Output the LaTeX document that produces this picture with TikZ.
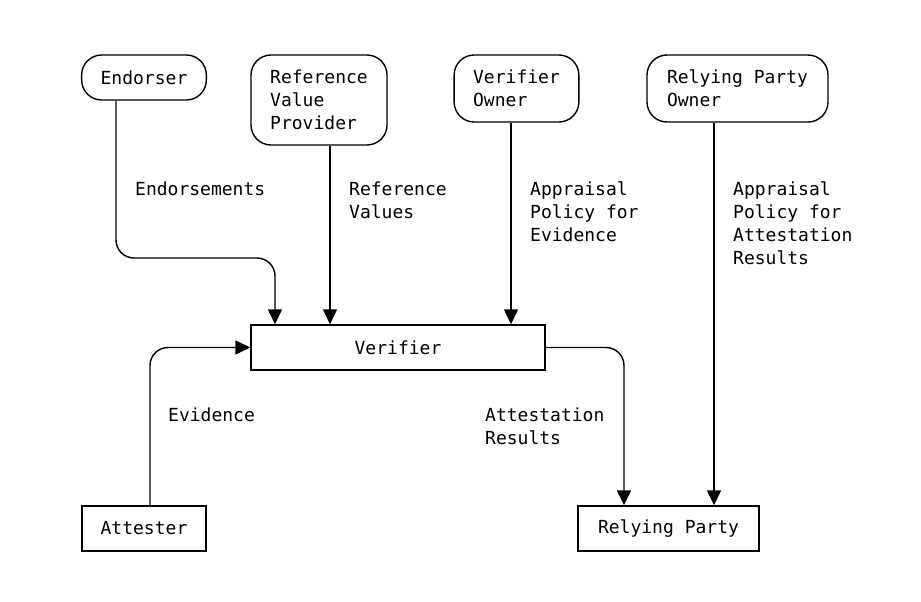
\documentclass[tikz,border=0pt]{standalone}
\usepackage{fontspec}
\newfontfamily\diagfont{DejaVu Sans Mono}
\usepackage{tikz}
\usetikzlibrary{positioning, arrows.meta, shapes}

\tikzset{
	roundbox/.style={draw, line width=1.4pt, rounded corners=20pt, align=left, inner xsep=19pt, inner ysep=0pt},
	plainbox/.style={draw, line width=1.4pt, align=center, inner sep=0pt, minimum height=45pt},
	link/.style={line width=1.4pt, rounded corners=18pt, -{Triangle[length=15pt, width=14pt]}},
	tag/.style={anchor=west, align=left, inner sep=0pt},
}

\begin{document}
\begin{tikzpicture}[x=1pt, y=-1pt, font=\diagfont\fontsize{18}{23}\selectfont]
		\useasboundingbox (0,0) rectangle (921,602);

		% Roles at the top
		\node[roundbox, minimum width=124pt, minimum height=45pt] (endorser) at (144,77.5) {Endorser};
		\node[roundbox, minimum width=136pt, minimum height=90pt] (refval) at (319,100) {Reference\\Value\\Provider};
		\node[roundbox, minimum width=123pt, minimum height=67pt] (vowner) at (516.5,88.5) {Verifier\\Owner};
		\node[roundbox, minimum width=181pt, minimum height=67pt] (rpowner) at (737.5,88.5) {Relying Party\\Owner};

		% Main boxes
		\node[plainbox, minimum width=294pt] (verifier) at (398,347.5) {Verifier};
		\node[plainbox, minimum width=124pt] (attester) at (144,528.5) {Attester};
		\node[plainbox, minimum width=181pt] (relying) at (668.5,528.5) {Relying Party};

		% Bend points
		\coordinate (endbend) at (275,258);

		% Connectors
		\draw[link] (endorser.south -| 116,0) |- (endbend) -- (verifier.north -| endbend);
		\draw[link] (refval.south -| 330,0) -- (verifier.north -| 330,0);
		\draw[link] (vowner.south -| 511,0) -- (verifier.north -| 511,0);
		\draw[link] (rpowner.south -| 714,0) -- (relying.north -| 714,0);
		\draw[link] (attester.north -| 150,0) |- (verifier.west);
		\draw[link] (verifier.east) -| (relying.north -| 624,0);

		% Labels
		\node[tag] (lendorse) at (135,189) {Endorsements};
		\node[tag] (lrefval) at (349,200.5) {Reference\\Values};
		\node[tag] (lpolev) at (530,212) {Appraisal\\Policy for\\Evidence};
		\node[tag] (lpolar) at (733,223.5) {Appraisal\\Policy for\\Attestation\\Results};
		\node[tag] (levid) at (168,415) {Evidence};
		\node[tag] (lresult) at (485,426.5) {Attestation\\Results};
	\end{tikzpicture}
\end{document}
